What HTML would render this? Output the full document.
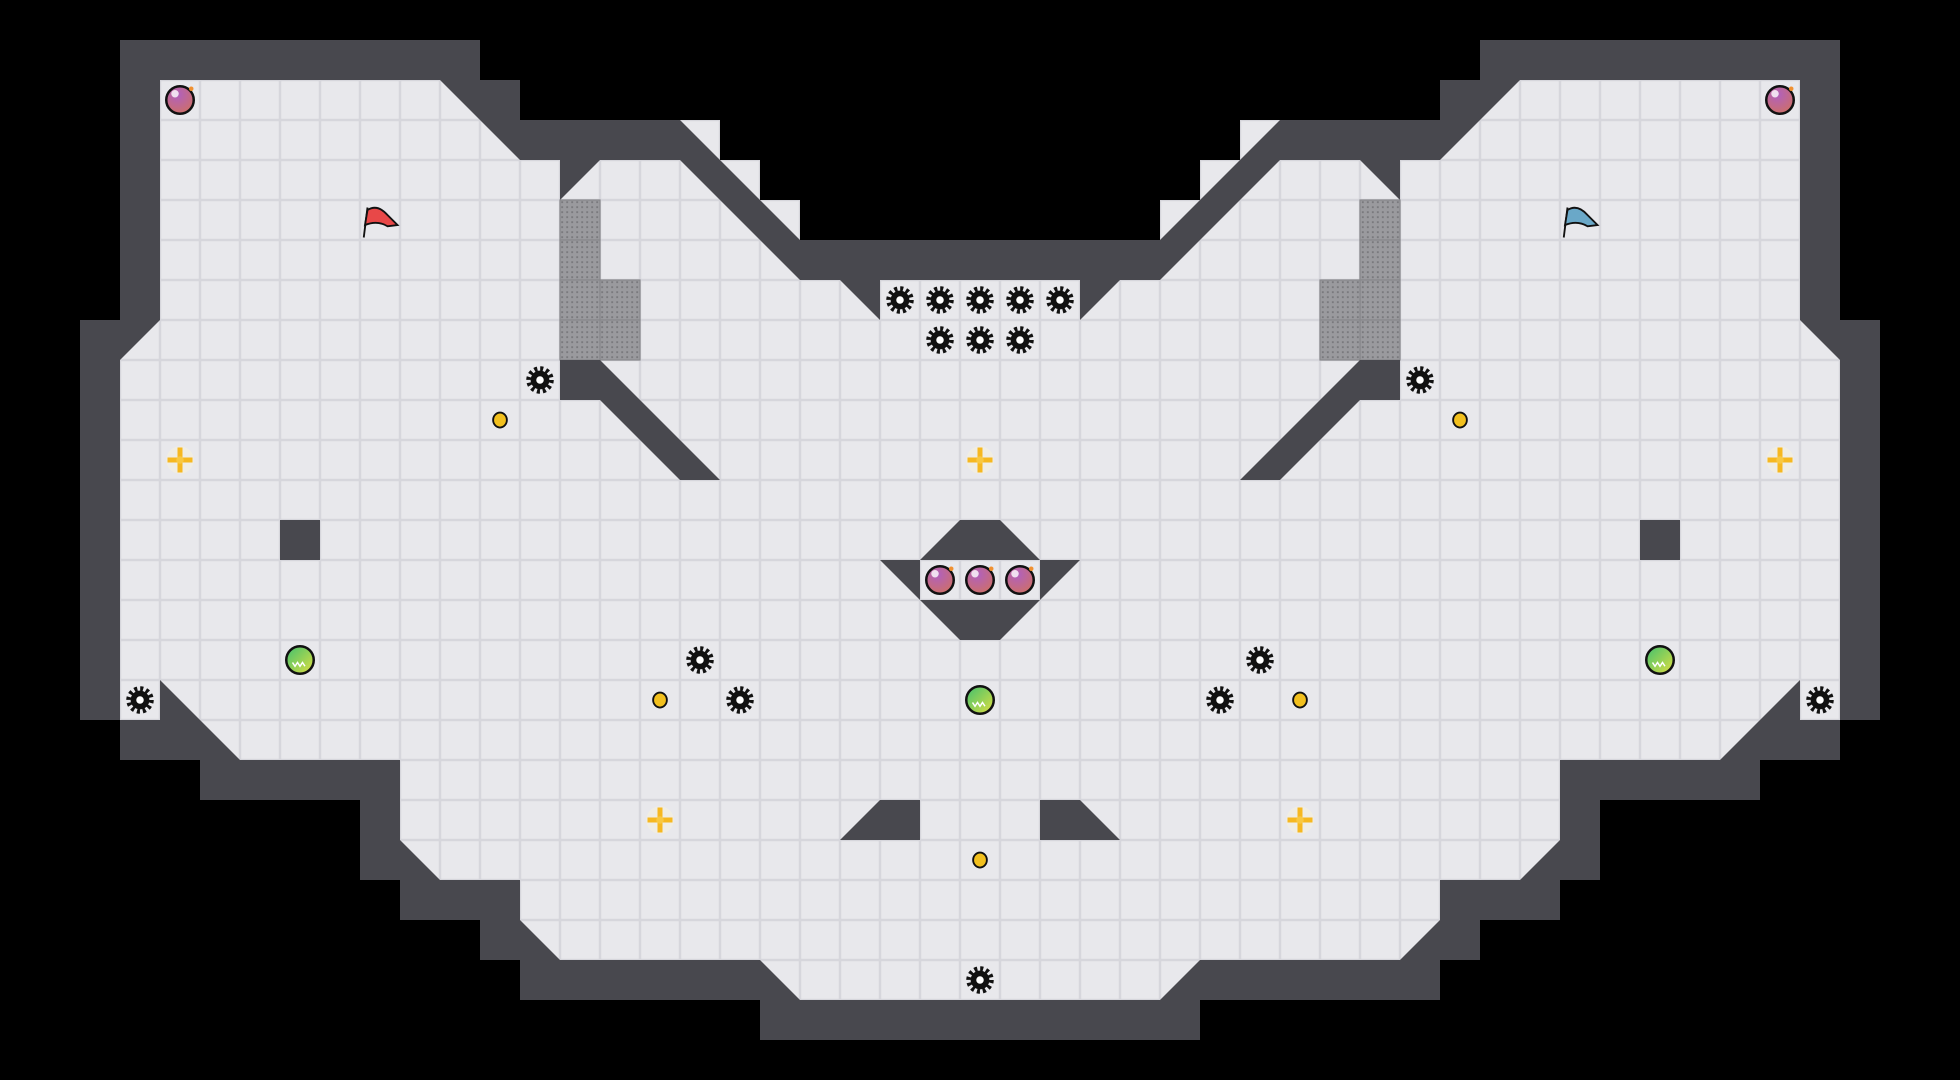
<!DOCTYPE html>
<html><head><meta charset="utf-8"><style>html,body{margin:0;padding:0;background:#000;}svg{display:block}</style></head>
<body>
<svg width="1960" height="1080" viewBox="0 0 1568 864" xmlns="http://www.w3.org/2000/svg">
<defs>
<pattern id="grid" width="32" height="32" patternUnits="userSpaceOnUse">
<rect width="32" height="32" fill="#d6d6dc"/>
<rect x="1" y="1" width="30" height="30" fill="#e8e8ec"/>
</pattern>
<pattern id="grate" width="4" height="4" patternUnits="userSpaceOnUse">
<rect width="4" height="4" fill="#9a9a9e"/><rect x="1" y="1" width="1.5" height="1.5" fill="#7a7a7e"/>
</pattern>
<g id="half">
<polygon fill="url(#grid)" points="544,96 576,96 576,128 608,128 608,160 640,160 640,192 544,192"/>
<polygon fill="#48484e" points="786,192 640,192 544,96 416,96 416,64 384,64 384,32 96,32 96,256 64,256 64,576 96,576 96,608 160,608 160,640 288,640 288,704 320,704 320,736 384,736 384,768 416,768 416,800 608,800 608,832 786,832"/>
<polygon fill="url(#grid)" points="786,224 704,224 704,256 672,224 640,224 544,128 480,128 448,160 448,128 416,128 352,64 128,64 128,256 96,288 96,576 128,576 128,544 192,608 320,608 320,672 352,704 416,704 416,736 448,768 608,768 640,800 786,800"/>
<g fill="url(#grate)" stroke="#88888c" stroke-width="1">
<rect x="448" y="160" width="32" height="32"/><rect x="448" y="192" width="32" height="32"/>
<rect x="448" y="224" width="32" height="32"/><rect x="480" y="224" width="32" height="32"/>
<rect x="448" y="256" width="32" height="32"/><rect x="480" y="256" width="32" height="32"/>
</g>
<g fill="#48484e">
<polygon points="448,288 480,288 576,384 544,384 480,320 448,320"/>
<rect x="224" y="416" width="32" height="32"/>
<polygon points="786,416 768,416 736,448 786,448"/>
<polygon points="786,480 736,480 768,512 786,512"/>
<polygon points="704,448 736,448 736,480"/>
<polygon points="672,672 704,640 736,640 736,672"/>
</g>
</g>
<g id="gear"><circle r="9" fill="none" stroke="#111" stroke-width="4" stroke-dasharray="2.4 2.3"/><circle r="7.5" fill="#111"/><circle r="3" fill="#fff"/></g>
<g id="coin"><ellipse rx="5.5" ry="6" fill="#f2c01e" stroke="#111" stroke-width="1.5"/></g>
<g id="cross"><circle r="11" fill="#f4f0e0" opacity="0.7"/><path d="M-10 0H10M0 -10V10" stroke="#f6b820" stroke-width="4"/><circle r="3" fill="#f8c840"/></g>
<radialGradient id="pg" cx="0.4" cy="0.3" r="0.8"><stop offset="0" stop-color="#b060c0"/><stop offset="1" stop-color="#d07060"/></radialGradient>
<g id="bomb"><circle r="11" fill="url(#pg)" stroke="#111" stroke-width="2"/><circle cx="-4" cy="-5" r="3" fill="#fff" opacity="0.8"/><circle cx="9" cy="-9" r="1.8" fill="#f09030"/></g>
<linearGradient id="gg" x1="0" y1="0" x2="1" y2="1"><stop offset="0" stop-color="#40c070"/><stop offset="1" stop-color="#e0e040"/></linearGradient>
<g id="green"><circle r="11" fill="url(#gg)" stroke="#111" stroke-width="2"/><path d="M-6 2l2 3 2-3 2 3 2-3 2 3" stroke="#fff" fill="none" stroke-width="1.2"/></g>
</defs>
<rect width="1568" height="864" fill="#000"/>
<use href="#half"/>
<use href="#half" transform="translate(1568,0) scale(-1,1)"/>
<g>
<use href="#gear" x="720" y="240"/><use href="#gear" x="752" y="240"/><use href="#gear" x="784" y="240"/><use href="#gear" x="816" y="240"/><use href="#gear" x="848" y="240"/>
<use href="#gear" x="752" y="272"/><use href="#gear" x="784" y="272"/><use href="#gear" x="816" y="272"/>
<use href="#gear" x="432" y="304"/><use href="#gear" x="1136" y="304"/>
<use href="#gear" x="560" y="528"/><use href="#gear" x="592" y="560"/><use href="#gear" x="1008" y="528"/><use href="#gear" x="976" y="560"/>
<use href="#gear" x="112" y="560"/><use href="#gear" x="1456" y="560"/><use href="#gear" x="784" y="784"/>
<use href="#coin" x="400" y="336"/><use href="#coin" x="1168" y="336"/><use href="#coin" x="528" y="560"/><use href="#coin" x="1040" y="560"/><use href="#coin" x="784" y="688"/>
<use href="#cross" x="144" y="368"/><use href="#cross" x="784" y="368"/><use href="#cross" x="1424" y="368"/><use href="#cross" x="528" y="656"/><use href="#cross" x="1040" y="656"/>
<use href="#bomb" x="144" y="80"/><use href="#bomb" x="1424" y="80"/><use href="#bomb" x="752" y="464"/><use href="#bomb" x="784" y="464"/><use href="#bomb" x="816" y="464"/>
<use href="#green" x="240" y="528"/><use href="#green" x="1328" y="528"/><use href="#green" x="784" y="560"/>
</g>
<g stroke="#111" stroke-width="1.5">
<line x1="291" y1="190" x2="294" y2="166"/>
<path d="M294 168 Q302 163 310 172 L318 180 L310 181 Q302 176 292 180Z" fill="#e84848"/>
<line x1="1251" y1="190" x2="1254" y2="166"/>
<path d="M1254 168 Q1262 163 1270 172 L1278 180 L1270 181 Q1262 176 1252 180Z" fill="#6aa8c8"/>
</g>
</svg>
</body></html>
